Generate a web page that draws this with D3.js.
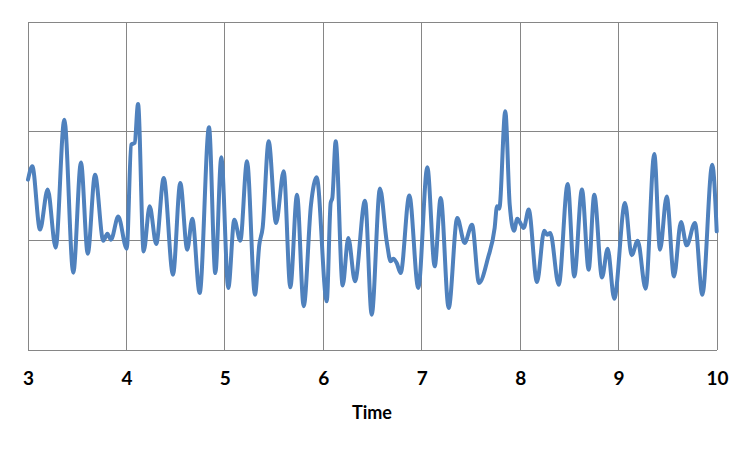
<!DOCTYPE html>
<html><head><meta charset="utf-8">
<script src="https://cdn.jsdelivr.net/npm/d3@7"></script>
<style>body{margin:0;background:#fff;}</style>
</head><body>
<svg id="chart" width="751" height="450"></svg>
<script>
const times = [3.000,3.044,3.122,3.200,3.281,3.369,3.460,3.538,3.607,3.681,3.765,3.806,3.843,3.917,4.003,4.049,4.084,4.118,4.175,4.236,4.303,4.379,4.473,4.547,4.618,4.669,4.744,4.839,4.903,4.964,5.035,5.096,5.157,5.225,5.306,5.350,5.384,5.445,5.520,5.598,5.665,5.733,5.801,5.875,5.933,6.035,6.075,6.092,6.126,6.197,6.254,6.322,6.424,6.492,6.576,6.644,6.685,6.711,6.746,6.786,6.874,6.965,7.057,7.132,7.193,7.274,7.361,7.436,7.511,7.582,7.673,7.741,7.765,7.788,7.849,7.894,7.938,7.971,8.036,8.087,8.171,8.245,8.273,8.306,8.392,8.483,8.550,8.628,8.696,8.753,8.832,8.889,8.956,9.065,9.133,9.194,9.275,9.363,9.421,9.489,9.563,9.634,9.692,9.776,9.851,9.952,9.997];
const values = [0.558,0.680,0.101,0.467,-0.064,1.107,-0.293,0.714,-0.119,0.604,0.000,0.064,0.009,0.220,-0.073,0.878,0.894,1.251,-0.098,0.314,-0.030,0.574,-0.311,0.528,-0.082,0.201,-0.478,1.037,-0.296,0.762,-0.433,0.192,0.000,0.726,-0.494,-0.037,0.119,0.909,0.162,0.634,-0.427,0.421,-0.599,0.329,0.579,-0.555,0.345,0.391,0.909,-0.409,0.025,-0.372,0.366,-0.677,0.476,-0.006,-0.189,-0.165,-0.204,-0.296,0.414,-0.433,0.671,-0.235,0.391,-0.616,0.208,-0.021,0.146,-0.387,-0.158,0.116,0.314,0.293,1.183,0.329,0.091,0.201,0.116,0.284,-0.378,0.091,0.055,0.070,-0.403,0.519,-0.327,0.467,-0.265,0.421,-0.336,-0.073,-0.531,0.345,-0.134,0.000,-0.439,0.793,-0.082,0.405,-0.327,0.171,-0.043,0.162,-0.494,0.695,0.085];
const xTicks = [3,4,5,6,7,8,9,10];
const yTicks = [-1,0,1,2];
const xTitle = "Time";

const svg = d3.select("#chart");
const mL = 28, mR = 717, mT = 22, mB = 350;
const x = d3.scaleLinear().domain([3,10]).range([mL,mR]);
const y = d3.scaleLinear().domain([-1,2]).range([mB,mT]);

const grid = svg.append("g").attr("stroke","#868686").attr("stroke-width",1).attr("shape-rendering","crispEdges");
grid.selectAll("line.v").data(xTicks).join("line").attr("class","v")
  .attr("x1",d=>x(d)).attr("x2",d=>x(d)).attr("y1",mT).attr("y2",mB);
grid.selectAll("line.h").data(yTicks).join("line").attr("class","h")
  .attr("y1",d=>y(d)).attr("y2",d=>y(d)).attr("x1",mL).attr("x2",mR);

const xAxis = d3.axisBottom(x).tickValues(xTicks).tickSize(0).tickPadding(22).tickFormat(d3.format("d"));
const ax = svg.append("g").attr("transform",`translate(0,${mB})`).call(xAxis);
ax.select(".domain").remove();
ax.selectAll("text").attr("font-family","'Comic Sans MS','Lato','DejaVu Sans',sans-serif")
  .attr("font-weight","bold").attr("font-size","19px").attr("fill","#000");

svg.append("text").attr("x",372).attr("y",419).attr("text-anchor","middle")
  .attr("font-family","'Comic Sans MS','Lato','DejaVu Sans',sans-serif")
  .attr("font-weight","bold").attr("font-size","18px").text(xTitle);

const data = times.map((t,i)=>({t, v: values[i]}));
const line = d3.line().x(d=>x(d.t)).y(d=>y(d.v)).curve(d3.curveMonotoneX);
svg.append("path").datum(data).attr("d",line).attr("fill","none")
  .attr("stroke","#4F81BD").attr("stroke-width",4).attr("stroke-linejoin","round").attr("stroke-linecap","round");
</script>
</body></html>
